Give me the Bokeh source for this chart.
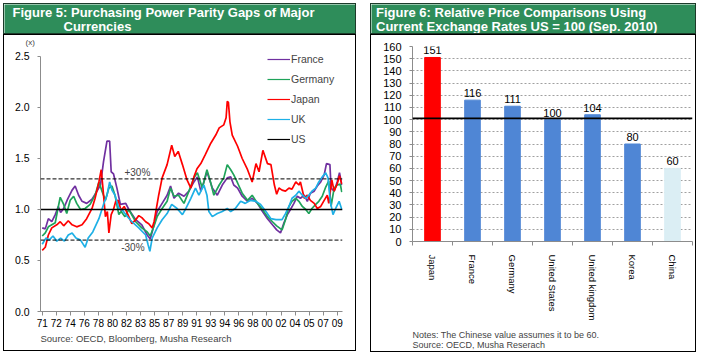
import math
from bokeh.plotting import figure
from bokeh.layouts import row, column
from bokeh.models import (Range1d, FixedTicker, Span, Label, LabelSet, Legend, LegendItem,
                          LinearAxis, ColumnDataSource, Spacer, PrintfTickFormatter, Title)
from bokeh.core.properties import value
from bokeh.embed import file_html
from bokeh.resources import INLINE

# ---------------- Figure 5 data (ratio, x) ----------------
x_tick_labels = ["71", "72", "74", "76", "78", "80", "82", "83", "85", "87", "89",
                 "91", "93", "94", "96", "98", "00", "02", "04", "05", "07", "09"]
y_ticks_left = [0.0, 0.5, 1.0, 1.5, 2.0, 2.5]

france_years = [1971.0, 1971.4, 1971.8, 1972.25, 1972.7, 1973.1, 1973.4, 1973.8, 1974.3, 1974.9,
                1975.3, 1975.75, 1976.2, 1976.8, 1977.5, 1978.15, 1978.6, 1979.0, 1979.45, 1979.8,
                1980.0, 1980.3, 1980.75, 1981.2, 1981.9, 1982.3, 1983.2, 1984.0, 1984.7, 1985.1,
                1985.6, 1986.0, 1986.65, 1987.3, 1987.75, 1988.2, 1988.8, 1989.5, 1990.15, 1990.8,
                1991.25, 1991.7, 1992.1, 1992.5, 1993.2, 1993.85, 1994.5, 1995.15, 1995.6, 1996.0,
                1996.5, 1997.1, 1997.8, 1998.4, 1999.1, 1999.75, 2000.4, 2001.05, 2001.6, 2002.1,
                2002.55, 2003.0, 2003.4, 2003.85, 2004.3, 2004.7, 2005.2, 2005.6, 2006.0, 2006.5,
                2006.9, 2007.35, 2007.8, 2008.1, 2008.55, 2008.7, 2009.1, 2009.5, 2009.8, 2010.1]
france_values = [0.82, 0.81, 0.91, 0.88, 0.95, 1.03, 0.97, 1.01, 1.10, 1.19,
                 1.23, 1.14, 1.08, 1.06, 1.10, 1.18, 1.24, 1.47, 1.67, 1.67,
                 1.37, 1.35, 1.21, 1.05, 1.06, 1.00, 0.90, 0.85, 0.75, 0.71,
                 0.85, 0.98, 1.06, 1.14, 1.23, 1.11, 1.16, 1.13, 1.18, 1.27,
                 1.32, 1.18, 1.27, 1.37, 1.21, 1.14, 1.24, 1.31, 1.32, 1.24,
                 1.21, 1.13, 1.08, 1.11, 1.06, 0.98, 0.91, 0.85, 0.80, 0.77,
                 0.87, 0.95, 1.00, 1.06, 1.13, 1.11, 1.14, 1.08, 1.16, 1.18,
                 1.23, 1.27, 1.34, 1.45, 1.44, 1.21, 1.18, 1.27, 1.36, 1.24]

germany_years = [1971.0, 1971.4, 1971.8, 1972.25, 1972.7, 1973.05, 1973.35, 1973.8, 1974.2, 1974.65,
                 1975.1, 1975.5, 1976.0, 1976.6, 1977.25, 1977.9, 1978.4, 1978.8, 1979.25, 1979.7,
                 1980.1, 1980.5, 1981.0, 1981.3, 1981.8, 1982.3, 1983.2, 1984.0, 1984.7, 1985.1,
                 1985.6, 1986.0, 1986.65, 1987.3, 1987.75, 1988.2, 1988.8, 1989.5, 1990.15, 1990.8,
                 1991.25, 1991.9, 1992.5, 1993.0, 1993.4, 1994.1, 1994.7, 1995.15, 1995.6, 1996.0,
                 1996.5, 1997.1, 1997.8, 1998.4, 1999.1, 1999.75, 2000.4, 2001.05, 2001.6, 2002.3,
                 2002.75, 2003.2, 2003.6, 2004.1, 2004.5, 2004.95, 2005.4, 2005.8, 2006.2, 2006.7,
                 2007.1, 2007.55, 2008.0, 2008.4, 2008.7, 2009.1, 2009.5, 2009.9, 2010.1]
germany_values = [0.74, 0.77, 0.83, 0.85, 0.87, 1.01, 1.12, 1.05, 0.96, 1.09,
                  1.13, 1.06, 1.00, 1.01, 1.05, 1.14, 1.27, 1.18, 1.09, 1.21,
                  1.23, 1.14, 0.95, 0.98, 0.93, 1.00, 0.88, 0.82, 0.78, 0.74,
                  0.84, 0.93, 1.01, 1.08, 1.21, 1.13, 1.14, 1.06, 1.18, 1.31,
                  1.36, 1.21, 1.39, 1.26, 1.14, 1.24, 1.31, 1.44, 1.39, 1.34,
                  1.26, 1.16, 1.09, 1.14, 1.06, 1.00, 0.93, 0.88, 0.84, 0.80,
                  0.90, 1.03, 1.08, 1.11, 1.08, 1.03, 1.00, 0.96, 1.01, 1.05,
                  1.08, 1.13, 1.22, 1.28, 1.03, 1.21, 1.24, 1.25, 1.17]

japan_years = [1971.0, 1971.4, 1971.8, 1972.25, 1972.9, 1973.35, 1973.8, 1974.4, 1974.9, 1975.5,
               1976.2, 1976.8, 1977.5, 1977.9, 1978.4, 1978.7, 1978.9, 1979.25, 1979.5, 1979.7,
               1980.0, 1980.3, 1980.6, 1980.9, 1981.3, 1981.7, 1982.3, 1982.7, 1983.2, 1983.6,
               1984.0, 1984.5, 1984.9, 1985.35, 1985.6, 1986.2, 1986.65, 1987.3, 1987.9, 1988.3,
               1988.75, 1989.3, 1989.9, 1990.4, 1990.8, 1991.2, 1991.7, 1992.3, 1993.0, 1993.65,
               1994.1, 1994.7, 1995.0, 1995.15, 1995.3, 1995.5, 1995.8, 1996.5, 1997.1, 1997.8,
               1998.4, 1998.9, 1999.3, 1999.8, 2000.4, 2000.85, 2001.3, 2001.6, 2001.9, 2002.3,
               2002.75, 2003.2, 2003.6, 2004.1, 2004.5, 2004.7, 2005.2, 2005.6, 2006.0, 2006.5,
               2006.9, 2007.35, 2007.8, 2008.2, 2008.4, 2008.8, 2009.1, 2009.5, 2009.8, 2010.1]
japan_values = [0.60, 0.63, 0.75, 0.82, 0.85, 0.88, 0.84, 0.89, 0.85, 0.83,
                0.85, 0.91, 1.01, 1.11, 1.27, 1.39, 1.23, 0.93, 0.98, 0.77,
                0.95, 1.00, 1.08, 1.09, 0.99, 1.03, 0.93, 0.86, 0.90, 0.94,
                0.92, 0.88, 0.86, 0.82, 0.88, 1.14, 1.31, 1.44, 1.63, 1.52,
                1.57, 1.44, 1.29, 1.21, 1.32, 1.40, 1.45, 1.54, 1.65, 1.73,
                1.80, 1.83, 1.90, 2.06, 2.05, 1.86, 1.73, 1.62, 1.50, 1.39,
                1.27, 1.45, 1.37, 1.58, 1.45, 1.44, 1.24, 1.15, 1.21, 1.19,
                1.18, 1.21, 1.20, 1.27, 1.24, 1.27, 1.11, 1.14, 1.09, 1.06,
                1.01, 1.03, 1.09, 1.14, 1.06, 1.29, 1.18, 1.25, 1.33, 1.25]

uk_years = [1971.0, 1971.5, 1971.9, 1972.4, 1972.9, 1973.4, 1973.9, 1974.4, 1974.9, 1975.4,
            1976.0, 1976.6, 1977.0, 1977.6, 1978.4, 1979.0, 1979.45, 1979.8, 1980.1, 1980.5,
            1981.0, 1981.5, 1981.9, 1982.7, 1983.6, 1984.5, 1984.8, 1985.05, 1985.35, 1986.0,
            1986.65, 1987.3, 1987.9, 1988.6, 1989.3, 1989.75, 1990.4, 1991.0, 1991.45, 1992.1,
            1992.5, 1992.75, 1993.2, 1993.85, 1994.5, 1995.15, 1995.6, 1996.2, 1996.9, 1997.5,
            1998.2, 1998.9, 1999.5, 2000.2, 2000.85, 2001.5, 2002.3, 2002.75, 2003.2, 2003.6,
            2004.1, 2004.5, 2004.95, 2005.4, 2005.8, 2006.2, 2006.7, 2007.1, 2007.55, 2008.0,
            2008.3, 2008.6, 2008.95, 2009.3, 2009.75, 2010.1]
uk_values = [0.66, 0.72, 0.70, 0.74, 0.69, 0.72, 0.69, 0.75, 0.77, 0.72,
             0.70, 0.63, 0.72, 0.78, 0.91, 1.05, 1.14, 1.27, 1.19, 1.14,
             1.01, 0.99, 0.95, 0.88, 0.82, 0.75, 0.66, 0.59, 0.72, 0.82,
             0.90, 0.96, 1.05, 1.01, 0.95, 1.01, 1.11, 1.21, 1.14, 1.24,
             1.14, 0.98, 0.93, 0.96, 0.98, 1.01, 0.98, 1.01, 1.08, 1.06,
             1.09, 1.08, 1.05, 0.98, 0.91, 0.90, 0.90, 0.96, 1.03, 1.11,
             1.14, 1.18, 1.14, 1.11, 1.14, 1.18, 1.21, 1.27, 1.32, 1.36,
             1.31, 1.08, 0.95, 1.01, 1.08, 1.00]

us_years = [1970.8, 2010.2]
us_values = [1.0, 1.0]

band_upper = 1.3
band_lower = 0.7

# ---------------- Figure 6 data ----------------
countries = ["Japan", "France", "Germany", "United States", "United kingdom", "Korea", "China"]
price_index = [151, 116, 111, 100, 104, 80, 60]
y_ticks_right = [0, 10, 20, 30, 40, 50, 60, 70, 80, 90, 100, 110, 120, 130, 140, 150, 160]
us_reference = 101

FONT = "Liberation Sans"
GREEN = "#2e8d5a"
AXIS_GRAY = "#8c8c8c"
C_FRANCE = "#7030a0"
C_GERMANY = "#1fa35a"
C_JAPAN = "#ff0000"
C_UK = "#1eb0e6"
C_US = "#000000"
BAR_BLUE = "#4f86d5"
BAR_RED = "#ff0000"
BAR_LIGHT = "#dbeef4"


def to_months(years):
    return [(y - 1971.0) * 12.0 for y in years]


def title_fig(w, h, size, lines):
    t = figure(width=w, height=h, x_range=Range1d(0, w), y_range=Range1d(0, h),
               toolbar_location=None, output_backend="svg", title=None,
               x_axis_location=None, y_axis_location=None, min_border=0,
               styles={"border": "1px solid #1c3b2a"})
    t.grid.visible = False
    t.background_fill_color = GREEN
    t.border_fill_color = GREEN
    t.outline_line_color = None
    for text, x, y in lines:
        t.add_layout(Label(x=x, y=y, text=text, text_color="white", text_font=FONT,
                           text_font_size=size, text_font_style="bold",
                           text_baseline="middle", text_align="left"))
    return t


BORDER = {"border": "1px solid #000000"}

# ---------------- Left chart ----------------
t1 = title_fig(353, 31, "13px", [("Figure 5: Purchasing Power Parity Gaps of Major", 8, 23.1),
                                 ("Currencies", 59, 8.6)])

x_tick_pos = [22 * i for i in range(len(x_tick_labels))]

p1 = figure(width=353, height=317, x_range=Range1d(-2.7, 470.3), y_range=Range1d(0, 2.598),
            toolbar_location=None, output_backend="svg", title=None,
            min_border_left=36, min_border_right=15, min_border_top=11, min_border_bottom=41,
            styles=BORDER)
p1.grid.visible = False
p1.outline_line_color = None
p1.border_fill_color = None

p1.xaxis.ticker = FixedTicker(ticks=x_tick_pos)
p1.xaxis.major_label_overrides = {k: v for k, v in zip(x_tick_pos, x_tick_labels)}
p1.yaxis.ticker = FixedTicker(ticks=y_ticks_left)
p1.yaxis.formatter = PrintfTickFormatter(format="%.1f")
p1.yaxis.bounds = (y_ticks_left[0], y_ticks_left[-1])
for ax in (p1.xaxis[0], p1.yaxis[0]):
    ax.axis_line_color = AXIS_GRAY
    ax.major_tick_line_color = AXIS_GRAY
    ax.minor_tick_line_color = None
    ax.major_tick_in = 0
    ax.major_label_text_font = FONT
    ax.major_label_text_color = "#000000"
p1.xaxis.major_tick_out = 4
p1.xaxis.major_label_standoff = 3
p1.xaxis.major_label_text_font_size = "10px"
p1.yaxis.major_tick_out = 3
p1.yaxis.major_label_standoff = 8
p1.yaxis.major_label_text_font_size = "10.5px"

p1.add_layout(Span(location=band_upper, dimension="width", line_color="black",
                   line_dash="4 2", line_width=1))
p1.add_layout(Span(location=band_lower, dimension="width", line_color="black",
                   line_dash="4 2", line_width=1))

series = [("France", france_years, france_values, C_FRANCE),
          ("Germany", germany_years, germany_values, C_GERMANY),
          ("Japan", japan_years, japan_values, C_JAPAN),
          ("UK", uk_years, uk_values, C_UK),
          ("US", us_years, us_values, C_US)]

items = []
for name, yrs, vals, col in series:
    xs = to_months(yrs)
    p1.line(xs, vals, line_color=col, line_width=1.7 if name != "US" else 1.3)
    proxy = p1.line(xs[:1], vals[:1], line_color=col, line_width=1.2)
    items.append(LegendItem(label=name, renderers=[proxy]))

legend = Legend(items=items, location=(227, 162), orientation="vertical",
                glyph_width=23, glyph_height=20, label_height=20, spacing=0, padding=0,
                margin=0, label_standoff=1, border_line_alpha=0, background_fill_alpha=0,
                label_text_font=FONT, label_text_font_size="10.5px")
p1.add_layout(legend)

p1.add_layout(Label(x=149, y=1.36, text="+30%", text_font=FONT, text_font_size="10px",
                    text_align="center", text_baseline="middle"))
p1.add_layout(Label(x=142, y=0.63, text="-30%", text_font=FONT, text_font_size="10px",
                    text_align="center", text_baseline="middle"))
p1.add_layout(Title(text="(x)", align="left", offset=-15, standoff=0, text_font=FONT,
                    text_font_size="8px", text_font_style="normal"), "above")
p1.add_layout(Title(text="Source: OECD, Bloomberg, Musha Research", align="left", offset=0,
                    standoff=2, text_font=FONT, text_font_size="9.5px",
                    text_font_style="normal"), "below")

# ---------------- Right chart ----------------
t2 = title_fig(326, 31, "13px", [("Figure 6: Relative Price Comparisons Using", 4.5, 23.1),
                                 ("Current Exchange Rates US = 100 (Sep. 2010)", 4.5, 8.6)])

n = len(countries)
slot_centers = [i + 0.5 for i in range(n)]
bar_colors = [BAR_RED] + [BAR_BLUE] * (n - 2) + [BAR_LIGHT]
src = ColumnDataSource(dict(x=slot_centers, top=price_index, color=bar_colors,
                            label=[str(v) for v in price_index]))

p2 = figure(width=326, height=318, x_range=Range1d(0, n), y_range=Range1d(0, 160),
            toolbar_location=None, output_backend="svg", title=None, x_axis_location=None,
            min_border_left=41, min_border_right=5, min_border_top=11, min_border_bottom=101,
            styles=BORDER)
p2.outline_line_color = None
p2.border_fill_color = None
p2.xgrid.visible = False
p2.ygrid.ticker = FixedTicker(ticks=y_ticks_right)
p2.ygrid.grid_line_color = "#a0a0a0"
p2.ygrid.grid_line_dash = "2 2"
p2.ygrid.grid_line_width = 1

p2.yaxis.ticker = FixedTicker(ticks=y_ticks_right)
p2.yaxis.axis_line_color = AXIS_GRAY
p2.yaxis.major_tick_line_color = AXIS_GRAY
p2.yaxis.minor_tick_line_color = None
p2.yaxis.major_tick_in = 0
p2.yaxis.major_tick_out = 3
p2.yaxis.major_label_standoff = 8
p2.yaxis.major_label_text_font = FONT
p2.yaxis.major_label_text_font_size = "11px"
p2.yaxis.major_label_text_color = "#000000"

slot_edges = list(range(n + 1))
tick_axis = LinearAxis(ticker=FixedTicker(ticks=slot_edges),
                       major_label_overrides={k: "" for k in slot_edges},
                       major_label_text_font_size="0px", major_label_standoff=0,
                       major_tick_in=0, major_tick_out=4, minor_tick_line_color=None,
                       axis_line_color=AXIS_GRAY, major_tick_line_color=AXIS_GRAY)
p2.add_layout(tick_axis, "below")
cat_axis = LinearAxis(ticker=FixedTicker(ticks=slot_centers),
                      major_label_overrides={k: v for k, v in zip(slot_centers, countries)},
                      axis_line_color=None, major_tick_line_color=None,
                      minor_tick_line_color=None, major_label_orientation=-math.pi / 2,
                      major_label_standoff=3, major_label_text_font=FONT,
                      major_label_text_font_size="9.5px", major_label_text_color="#000000")
p2.add_layout(cat_axis, "below")

p2.vbar(x="x", top="top", width=0.39, color="color", source=src)
p2.add_layout(LabelSet(x="x", y="top", text="label", source=src, text_align="center",
                       text_baseline="bottom", y_offset=3, text_font=value(FONT),
                       text_font_size=value("11px"), text_color="#000000"))
p2.add_layout(Span(location=us_reference, dimension="width", line_color="black", line_width=1.8))

p2.add_layout(Title(text="Notes:  The Chinese value assumes it to be 60.\nSource: OECD, Musha Reserach",
                    align="left", offset=0, standoff=8, text_font=FONT, text_font_size="9px",
                    text_font_style="normal", text_line_height=0.95), "below")

col1 = column(Spacer(height=3), row(t1), row(p1))
col2 = column(Spacer(height=3), row(t2), row(p2))
layout = row(Spacer(width=3), col1, Spacer(width=14), col2)

open("out.html", "w").write(file_html(layout, INLINE))
